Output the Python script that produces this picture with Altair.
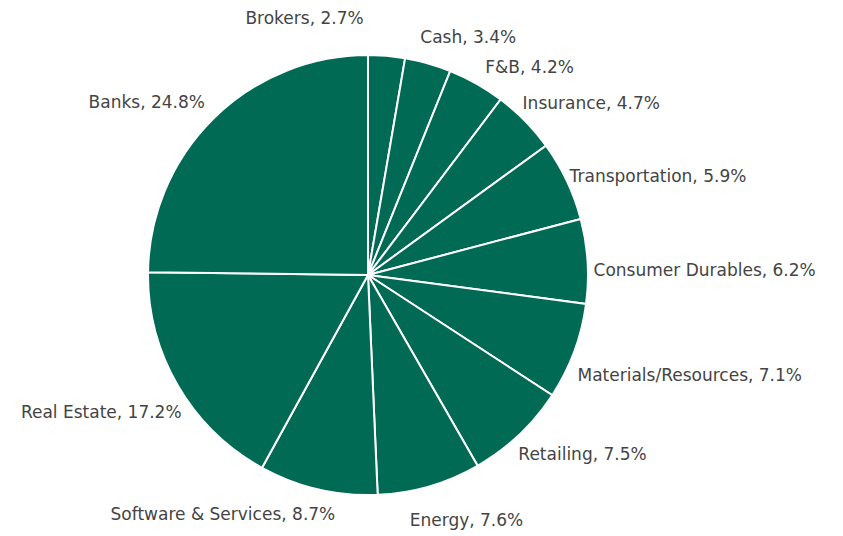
import altair as alt
import pandas as pd

sectors = ["Brokers", "Cash", "F&B", "Insurance", "Transportation",
           "Consumer Durables", "Materials/Resources", "Retailing", "Energy",
           "Software & Services", "Real Estate", "Banks"]
weights = [2.7, 3.4, 4.2, 4.7, 5.9, 6.2, 7.1, 7.5, 7.6, 8.7, 17.2, 24.8]

df = pd.DataFrame({"sector": sectors, "value": weights})

# label placement (annotation layout): align, dx, dy relative to the slice mid-angle point
label_layout = {
    "Brokers": ("right", -24, -25),
    "Cash": ("left", -11, -14),
    "F&B": ("left", 3, -5),
    "Insurance": ("left", -11, -9),
    "Transportation": ("left", -8, 1),
    "Consumer Durables": ("left", -6, 11),
    "Materials/Resources": ("left", -8, 20),
    "Retailing": ("left", -9, 11),
    "Energy": ("left", -23, 23),
    "Software & Services": ("right", 20, 14),
    "Real Estate": ("right", 14, 21),
    "Banks": ("right", 0, -7),
}

CX, CY = 360, 267
GREEN = "#006a55"

base = alt.Chart(df).transform_window(
    idx="row_number()"
)

pie = base.mark_arc(outerRadius=220, color=GREEN, stroke="white", strokeWidth=2).encode(
    theta=alt.Theta("value:Q", stack=True),
    order=alt.Order("idx:Q"),
    x=alt.value(CX),
    y=alt.value(CY),
)

lab_base = base.transform_window(
    cum="sum(value)", sort=[alt.SortField("idx")], frame=[None, 0]
).transform_calculate(
    mid="datum.cum - datum.value / 2",
    label="datum.sector + ', ' + format(datum.value, '.1f') + '%'",
)

layers = [pie]
for name, (align, dx, dy) in label_layout.items():
    layers.append(
        lab_base.transform_filter(alt.datum.sector == name)
        .mark_text(align=align, baseline="middle", dx=dx, dy=dy, radius=232,
                   font="DejaVu Sans", fontSize=17, color="#444444")
        .encode(
            theta=alt.Theta("mid:Q", stack=False,
                            scale=alt.Scale(domain=[0, 100], range=[0, 6.283185307179586])),
            text="label:N",
            x=alt.value(CX),
            y=alt.value(CY),
        )
    )

chart = alt.layer(*layers).properties(
    width=827, height=528, padding=0, autosize=alt.AutoSizeParams(type="none")
).configure_view(stroke=None)

chart.save("out.html", embed_options={"renderer": "svg", "actions": False})
